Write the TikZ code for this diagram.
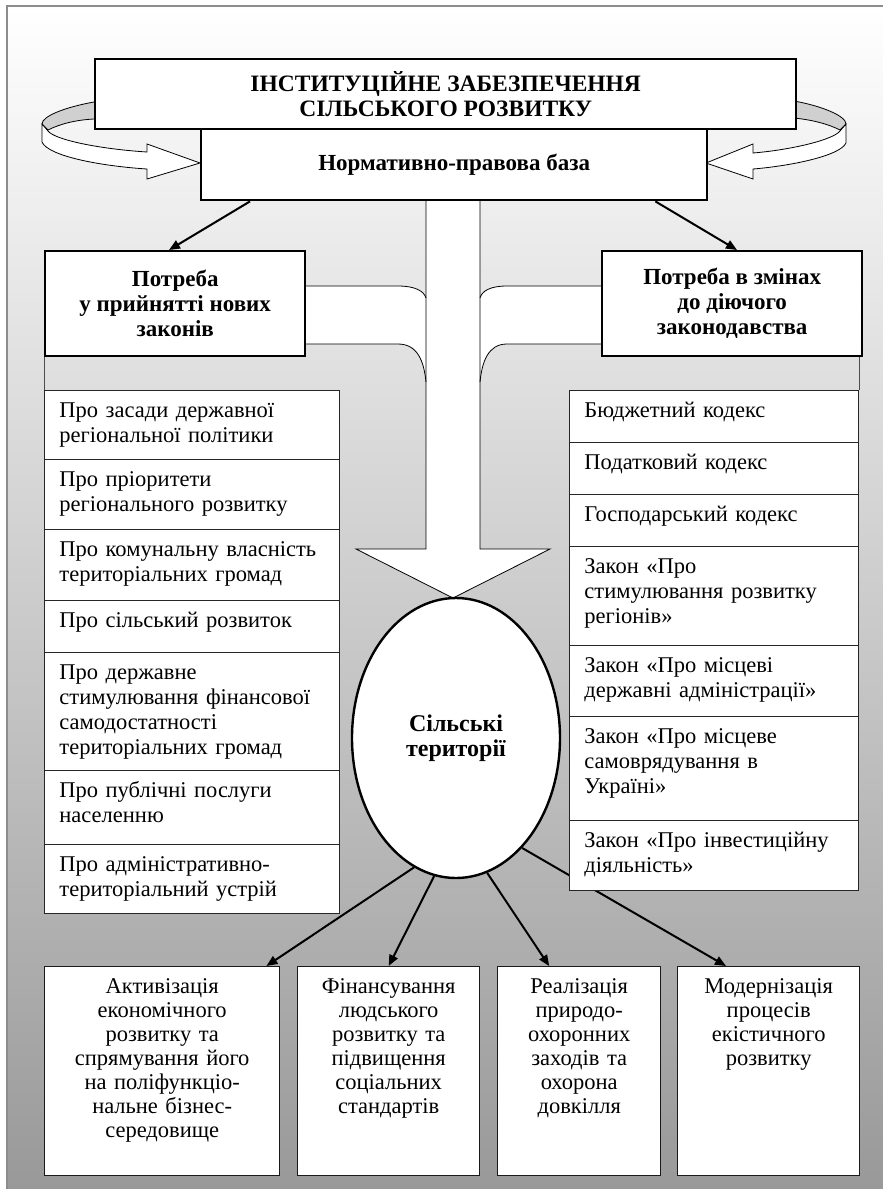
\documentclass[tikz,border=0pt]{standalone}
\usepackage{fontspec}
\setmainfont{Liberation Serif}
\usetikzlibrary{shapes.geometric,arrows.meta}
\definecolor{bgbottom}{RGB}{153,153,153}
\definecolor{frameline}{RGB}{140,140,140}
\definecolor{ribbongray}{RGB}{208,208,208}
\newcommand\myfs{\fontsize{22.5}{25}\selectfont}
\newcommand\myfb{\bfseries\fontsize{23}{25}\selectfont}
\newcommand\mylines[1]{\begin{tabular}[t]{@{}l@{}}#1\end{tabular}}
\begin{document}
\begin{tikzpicture}[x=1pt,y=-1pt,
  hbox/.style={draw=black, line width=2.4pt, fill=white, inner sep=0pt, align=center, anchor=north west, font=\myfb},
  litem/.style={draw=black!85, line width=0.9pt, fill=white, anchor=north west, inner xsep=15pt, inner ysep=0pt, align=left, text height=27pt, text depth=#1, font=\myfs},
  bbox/.style={draw=black!90, line width=1.4pt, fill=white, anchor=north west, inner xsep=4pt, inner ysep=0pt, align=center, text height=27pt, text depth=182pt, font=\fontsize{22.5}{24}\selectfont},
  blarrow/.style={draw=black, line width=2pt, -{Triangle[length=11pt,width=9pt]}},
  thinline/.style={draw=black, line width=0.8pt},
  ribbon/.style={draw=black, line width=0.8pt}
]
\useasboundingbox (0,0) rectangle (883,1189);
% background
\shade[top color=white, bottom color=bgbottom] (7,6) rectangle (883,1189);
\draw[frameline, line width=1.6pt] (7,1189) -- (7,6) -- (883,6);

% curved arrows (left)
\filldraw[ribbon, fill=ribbongray] (100,101) -- (94,102) .. controls (66,107) and (42,116) .. (42,124) -- (48,130) .. controls (60,124) and (75,120) .. (94,119) -- (100,119);
\filldraw[ribbon, fill=white] (42,124) -- (42,142) .. controls (48,156) and (100,166) .. (147,169) -- (147,179) -- (200,163) -- (147,144) -- (147,152) .. controls (100,149) and (55,140) .. (48,131) -- cycle;
% curved arrows (right)
\filldraw[ribbon, fill=ribbongray] (788,100) -- (794,101) .. controls (822,106) and (846,116) .. (846,124) -- (840,130) .. controls (828,124) and (813,120) .. (794,118) -- (788,118);
\filldraw[ribbon, fill=white] (846,124) -- (846,143) .. controls (840,156) and (790,166) .. (753,169) -- (753,179) -- (706,163) -- (753,144) -- (753,153) .. controls (790,150) and (833,140) .. (840,131) -- cycle;

% big white arrow with branches
\fill[white] (426,199) rectangle (480,549);
\fill[white] (356,549) -- (453,598) -- (550,549) -- cycle;
\fill[white] (300,286) -- (398,286) .. controls (415,286) and (424,291) .. (426,298) -- (426,382) .. controls (424,362) and (418,344) .. (398,344) -- (300,344) -- cycle;
\fill[white] (606,286) -- (507,286) .. controls (490,286) and (482,291) .. (480,298) -- (480,382) .. controls (482,362) and (488,344) .. (507,344) -- (606,344) -- cycle;
\draw[thinline] (426,199) -- (426,549) -- (356,549) -- (453,598) -- (550,549) -- (480,549) -- (480,199);
\draw[thinline] (304,286) -- (398,286) .. controls (415,286) and (424,291) .. (426,298);
\draw[thinline] (304,344) -- (398,344) .. controls (418,344) and (424,362) .. (426,382);
\draw[thinline] (601,286) -- (507,286) .. controls (490,286) and (482,291) .. (480,298);
\draw[thinline] (601,344) -- (507,344) .. controls (488,344) and (482,362) .. (480,382);

% head boxes
\node[hbox, minimum width=506pt, minimum height=71pt] (norm) at (200,128) {Нормативно-правова база};
\node[hbox, minimum width=701pt, minimum height=70pt, font=\bfseries\fontsize{23.5}{25}\selectfont] (top) at (94,58) {ІНСТИТУЦІЙНЕ ЗАБЕЗПЕЧЕННЯ\\СІЛЬСЬКОГО РОЗВИТКУ};
\node[hbox, minimum width=260pt, minimum height=105pt] (potL) at (44,250) {Потреба\\у прийнятті нових\\законів};
\node[hbox, minimum width=260pt, minimum height=105pt] (potR) at (601,250) {Потреба в змінах\\до діючого\\законодавства};

\draw[blarrow] ([xshift=50pt]norm.south west) -- ([xshift=125pt]potL.north west);
\draw[blarrow] ([xshift=-53pt]norm.south east) -- ([xshift=136pt]potR.north west);

% ellipse
\node[ellipse, draw=black, line width=2.4pt, fill=white, minimum width=208pt, minimum height=280pt, inner sep=0pt, align=center, font=\bfseries\fontsize{24}{25}\selectfont] (ell) at (456,738) {Сільські\\території};

% bottom boxes
\node[bbox, text width=227pt] (b1) at (44,966) {Активізація\\економічного\\розвитку та\\спрямування його\\на поліфункціо-\\нальне бізнес-\\середовище};
\node[bbox, text width=174pt] (b2) at (297,966) {Фінансування\\людського\\розвитку та\\підвищення\\соціальних\\стандартів};
\node[bbox, text width=155pt] (b3) at (497,966) {Реалізація\\природо-\\охоронних\\заходів та\\охорона\\довкілля};
\node[bbox, text width=174pt] (b4) at (677,966) {Модернізація\\процесів\\екістичного\\розвитку};

\draw[blarrow] (ell.252) -- ([xshift=-14pt]b1.north east);
\draw[blarrow] (ell.261) -- (b2.north);
\draw[blarrow] (ell.283) -- ([xshift=-30pt]b3.north);
\draw[blarrow] (ell.301) -- ([xshift=49pt]b4.north west);

% left list
\node[litem=42pt, text width=265pt] (l1) at (44,390) {\mylines{Про засади державної\\регіональної політики}};
\node[litem=43pt, text width=265pt] (l2) at (44,459) {\mylines{Про пріоритети\\регіонального розвитку}};
\node[litem=44pt, text width=265pt] (l3) at (44,529) {\mylines{Про комунальну власність\\територіальних громад}};
\node[litem=25pt, text width=265pt] (l4) at (44,600) {\mylines{Про сільський розвиток}};
\node[litem=91pt, text width=265pt] (l5) at (44,652) {\mylines{Про державне\\стимулювання фінансової\\самодостатності\\територіальних громад}};
\node[litem=47pt, text width=265pt] (l6) at (44,770) {\mylines{Про публічні послуги\\населенню}};
\node[litem=42pt, text width=265pt] (l7) at (44,844) {\mylines{Про адміністративно-\\територіальний устрій}};
\draw[black!70, line width=0.7pt] (potL.south west) -- (l1.north west);

% right list
\node[litem=25pt, text width=259pt] (r1) at (569,390) {\mylines{Бюджетний кодекс}};
\node[litem=25pt, text width=259pt] (r2) at (569,442) {\mylines{Податковий кодекс}};
\node[litem=25pt, text width=259pt] (r3) at (569,494) {\mylines{Господарський кодекс}};
\node[litem=72pt, text width=259pt] (r4) at (569,546) {\mylines{Закон «Про\\стимулювання розвитку\\регіонів»}};
\node[litem=44pt, text width=259pt] (r5) at (569,645) {\mylines{Закон «Про місцеві\\державні адміністрації»}};
\node[litem=77pt, text width=259pt] (r6) at (569,716) {\mylines{Закон «Про місцеве\\самоврядування в\\Україні»}};
\node[litem=43pt, text width=259pt] (r7) at (569,820) {\mylines{Закон «Про інвестиційну\\діяльність»}};
\draw[black!70, line width=0.7pt] (potR.south east -| r1.north east) -- (r1.north east);
\end{tikzpicture}
\end{document}
